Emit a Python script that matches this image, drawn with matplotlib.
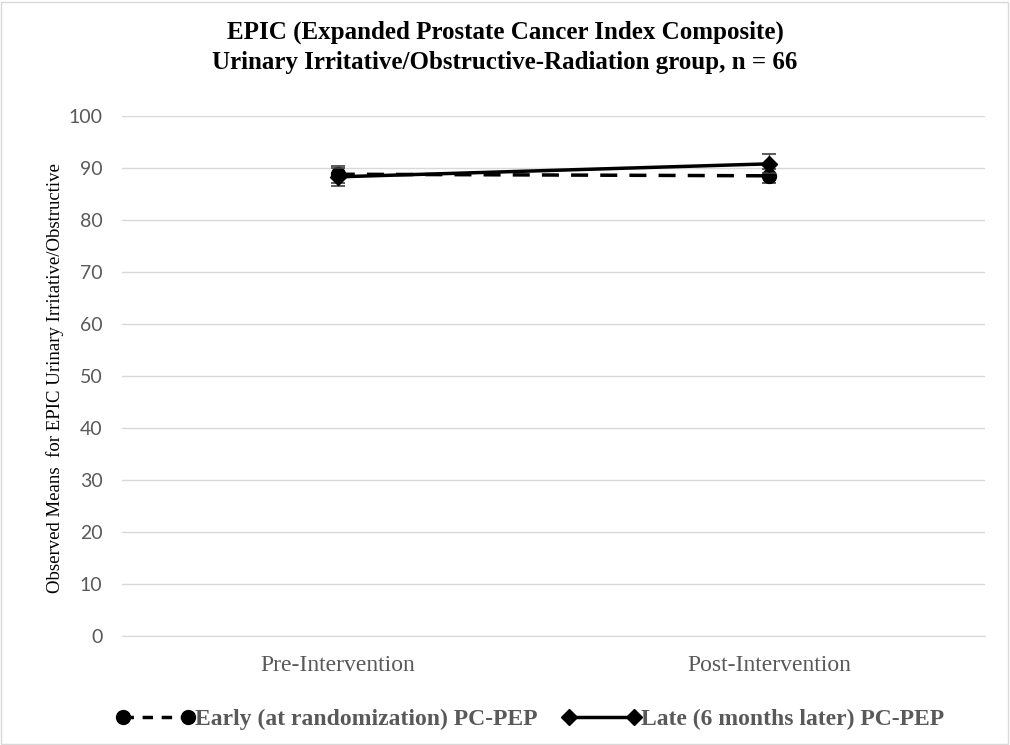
import matplotlib.pyplot as plt
from matplotlib.lines import Line2D
from matplotlib.patches import Rectangle

# Observed means and error bar half-widths at each time point
timepoints = ['Pre-Intervention', 'Post-Intervention']
early_means = [88.8, 88.5]
early_err = [1.6, 1.4]
late_means = [88.3, 90.8]
late_err = [1.7, 1.8]
yticks = [0, 10, 20, 30, 40, 50, 60, 70, 80, 90, 100]

serif = 'Liberation Serif'
sans = 'Lato'
grey = '#595959'
dashed = (0, (4.9, 3.5))

fig = plt.figure(figsize=(10.1, 7.45), dpi=100)
ax = fig.add_axes([122 / 1010, 1 - 636 / 745, 863 / 1010, 520 / 745])

x = [0, 1]
ax.errorbar(x, early_means, yerr=early_err, color='black', lw=2.5, ls=dashed,
            marker='o', ms=10, capsize=5, ecolor='#404040', elinewidth=1, capthick=1.2, zorder=3)
ax.errorbar(x, late_means, yerr=late_err, color='black', lw=2.5, ls='-',
            marker='D', ms=8, capsize=5, ecolor='#404040', elinewidth=1, capthick=1.2, zorder=4)

ax.set_xlim(-0.5, 1.5)
ax.set_ylim(0, 100)
ax.set_yticks(yticks)
ax.set_yticklabels([str(t) for t in yticks], fontfamily=sans, fontsize=14, color=grey)
ax.set_xticks(x)
ax.set_xticklabels(timepoints, fontfamily=serif, fontsize=17, color=grey)
ax.tick_params(axis='x', length=0, pad=14)
ax.tick_params(axis='y', length=0, pad=14)
ax.grid(axis='y', color='#d9d9d9', lw=1)
ax.set_axisbelow(True)
for side in ['top', 'right', 'left']:
    ax.spines[side].set_visible(False)
ax.spines['bottom'].set_color('#d9d9d9')

fig.text(55 / 1010, 1 - 378 / 745, 'Observed Means  for EPIC Urinary Irritative/Obstructive',
         rotation=90, ha='center', va='center', fontfamily=serif, fontsize=13.5, color='black')

fig.text(505 / 1010, 1 - 32 / 745, 'EPIC (Expanded Prostate Cancer Index Composite)',
         ha='center', va='center', fontfamily=serif, fontsize=18, fontweight='bold')
fig.text(505 / 1010, 1 - 62 / 745, 'Urinary Irritative/Obstructive-Radiation group, n = 66',
         ha='center', va='center', fontfamily=serif, fontsize=18, fontweight='bold')

# legend keys carry a marker at each end of the line
handles = [
    Line2D([], [], color='black', lw=2.5, ls=(0, (3, 2.5)), marker='o', ms=10),
    Line2D([], [], color='black', lw=2.5, ls='-', marker='D', ms=8),
]
fig.legend(handles, ['Early (at randomization) PC-PEP', 'Late (6 months later) PC-PEP'],
           loc='center', bbox_to_anchor=(530 / 1010, 1 - 719 / 745), ncol=2, frameon=False,
           numpoints=2, handlelength=3.35, handletextpad=0.0, columnspacing=1.05,
           prop={'family': serif, 'size': 17, 'weight': 'bold'}, labelcolor=grey)

fig.patches.append(Rectangle((1 / 1010, 1 / 745), 1007 / 1010, 742 / 745, transform=fig.transFigure,
                             fill=False, edgecolor='#d9d9d9', lw=1))

fig.savefig('out.png', dpi=100)
